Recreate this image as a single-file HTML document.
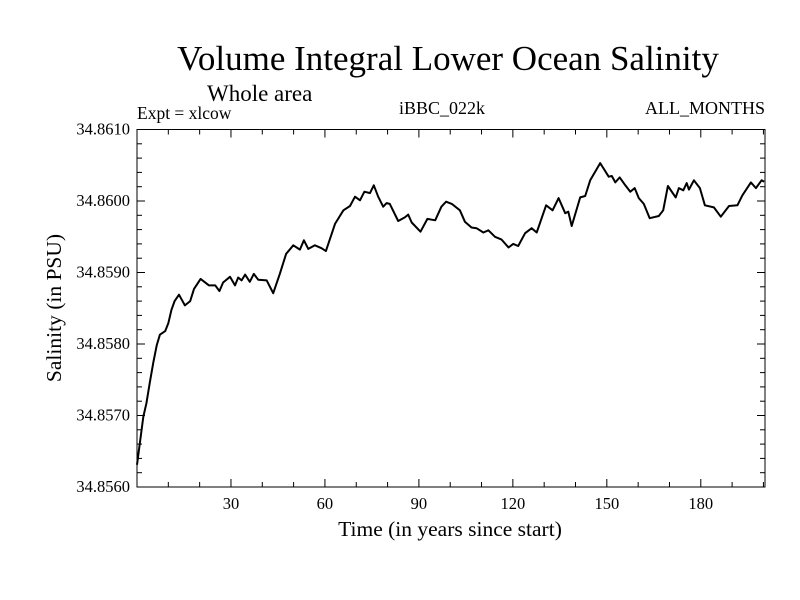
<!DOCTYPE html>
<html><head><meta charset="utf-8"><style>
body{margin:0;background:#fff}
svg{display:block;font-family:"Liberation Serif",serif}
</style></head><body>
<svg id="chart" width="800" height="600" viewBox="0 0 800 600">
<rect width="800" height="600" fill="#fff"/>
<text x="448" y="70" font-size="35" text-anchor="middle">Volume Integral Lower Ocean Salinity</text>
<text x="207" y="101" font-size="23">Whole area</text>
<text x="137" y="119" font-size="17.5">Expt = xlcow</text>
<text x="442" y="114" font-size="18" text-anchor="middle">iBBC_022k</text>
<text x="765" y="114" font-size="18" text-anchor="end">ALL_MONTHS</text>
<text x="450" y="536" font-size="21.5" text-anchor="middle">Time (in years since start)</text>
<text transform="translate(61,308) rotate(-90)" font-size="21.5" text-anchor="middle">Salinity (in PSU)</text>
<g id="axes"></g>
<path id="line" fill="none" stroke="#000" stroke-width="2" stroke-linejoin="round"/>
<rect x="137" y="129.5" width="628" height="357.5" fill="none" stroke="#000" stroke-width="1"/>
</svg>
<script>
const years=[0,1,2,3,4.1,5.2,6.3,7.3,9,10,11,12,13.4,15.3,17,18.2,20.3,23,25,26.3,27.5,29.7,31.3,32.3,33.4,34.5,36,37.3,38.7,41.4,43.5,45.6,47.6,49.9,52,53.3,54.7,56.8,58.9,60.3,63.2,65.9,68,69.6,71.2,72.6,74.4,75.6,77,78.6,79.7,80.7,83.4,85.5,86.6,87.7,90.5,92.7,95.2,97.2,98.7,100.5,103.1,104.7,106.8,108.4,110.6,112.2,114.3,116.4,118.6,120.1,121.7,123.9,126,127.6,130.6,132.7,134.6,136.7,137.7,138.8,141.5,143.1,144.7,147.9,150.6,151.6,152.7,154.1,155.9,157.5,158.9,160.2,161.8,163.7,166.6,168,169.5,172,173,174.4,175.5,176.2,177.8,179.7,181.3,184.2,186.4,189,191.7,193.3,196,197.6,199.4,200.2];
const salinity=[34.85631,34.85664,34.85698,34.85717,34.85746,34.85774,34.85798,34.85813,34.85818,34.85829,34.85848,34.8586,34.85869,34.85854,34.8586,34.85877,34.85891,34.85882,34.85882,34.85874,34.85886,34.85894,34.85882,34.85893,34.85889,34.85897,34.85887,34.85898,34.8589,34.85889,34.85871,34.85898,34.85926,34.85938,34.85932,34.85945,34.85933,34.85938,34.85934,34.8593,34.85968,34.85987,34.85993,34.86006,34.86001,34.86013,34.86011,34.86022,34.86006,34.85992,34.85997,34.85996,34.85972,34.85977,34.85981,34.8597,34.85957,34.85975,34.85973,34.85992,34.85999,34.85996,34.85987,34.85971,34.85963,34.85962,34.85956,34.85959,34.8595,34.85946,34.85935,34.8594,34.85937,34.85955,34.85962,34.85956,34.85994,34.85987,34.86004,34.85983,34.85985,34.85965,34.86005,34.86007,34.86029,34.86053,34.86034,34.86035,34.86026,34.86033,34.86022,34.86013,34.86018,34.86004,34.85996,34.85976,34.85979,34.85987,34.86021,34.86005,34.86018,34.86015,34.86025,34.86016,34.86029,34.86018,34.85994,34.85991,34.85978,34.85993,34.85994,34.86008,34.86026,34.86018,34.86029,34.86027];
const yTicks=[34.856,34.857,34.858,34.859,34.860,34.861];
const yTickLabels=["34.8560","34.8570","34.8580","34.8590","34.8600","34.8610"];
const xTicks=[30,60,90,120,150,180];
const xTickLabels=["30","60","90","120","150","180"];
const X0=137,X1=765,Y0=487,Y1=129.5,xMin=0,xMax=200.5,yMin=34.856,yMax=34.861;
function xs(v){return X0+(v-xMin)/(xMax-xMin)*(X1-X0);}
function ys(v){return Y0-(v-yMin)/(yMax-yMin)*(Y0-Y1);}
const NS='http://www.w3.org/2000/svg';
const axes=document.getElementById('axes');
function ln(x1,y1,x2,y2,name){const l=document.createElementNS(NS,'line');l.setAttribute('x1',x1);l.setAttribute('y1',y1);l.setAttribute('x2',x2);l.setAttribute('y2',y2);l.setAttribute('stroke','#000');


axes.appendChild(l);}
function tx(x,y,s,anchor,name){const t=document.createElementNS(NS,'text');t.setAttribute('x',x);t.setAttribute('y',y);t.setAttribute('font-size','16.5');t.setAttribute('text-anchor',anchor);t.textContent=s;


axes.appendChild(t);}
for(let v=yMin;v<=yMax+1e-9;v+=0.0002){const y=ys(v);const major=Math.abs(Math.round(v*1000)-v*1000)<1e-6;const L=major?8:5;ln(X0,y,X0+L,y,'y-tick');ln(X1,y,X1-L,y,'y-tick-right');}
yTicks.forEach((v,i)=>tx(130,ys(v)+5,yTickLabels[i],'end','y-tick-label'));
for(let v=10;v<=200;v+=10){const x=xs(v);const major=v%30===0;const L=major?8:5;ln(x,Y0,x,Y0-L,'x-tick');ln(x,Y1,x,Y1+L,'x-tick-top');}
xTicks.forEach((v,i)=>tx(xs(v),509,xTickLabels[i],'middle','x-tick-label'));
let d='';years.forEach((yr,i)=>{d+=(i?'L':'M')+xs(yr).toFixed(1)+','+ys(salinity[i]).toFixed(1);});
document.getElementById('line').setAttribute('d',d);
</script>
</body></html>
